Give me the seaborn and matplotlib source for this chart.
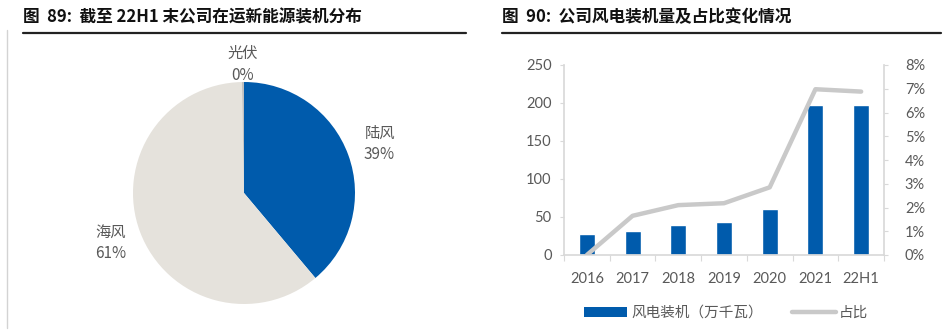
import numpy as np
import pandas as pd
import matplotlib
matplotlib.use("Agg")
import matplotlib.pyplot as plt
from matplotlib.lines import Line2D
from matplotlib.patches import Patch
import seaborn as sns

sns.set_theme(style="white")
CJK = ["Noto Sans CJK SC", "DejaVu Sans"]
NUM = ["Lato", "Noto Sans CJK SC", "DejaVu Sans"]
plt.rcParams["font.family"] = CJK
plt.rcParams["axes.unicode_minus"] = False

# ---- data ----
pie_labels = ["陆风", "海风", "光伏"]
pie_share = [39.0, 61.0, 0.3]          # %

years = ["2016", "2017", "2018", "2019", "2020", "2021", "22H1"]
wind_capacity = [27, 31, 40, 43, 61, 198, 198]      # 万千瓦
wind_ratio = [0.0, 1.65, 2.1, 2.18, 2.85, 6.98, 6.88]  # %

title_left = "图  89:  截至 22H1 末公司在运新能源装机分布"
title_right = "图  90:  公司风电装机量及占比变化情况"
legend_bar = "风电装机（万千瓦）"
legend_line = "占比"

BLUE = "#005BAC"
LIGHT = "#E5E2DC"
SLIVER = "#BFBFBF"
LINE_GRAY = "#C9C9C9"
TXT = "#595959"
AXIS = "#D9D9D9"

W, H = 946, 330
fig = plt.figure(figsize=(W / 100, H / 100), dpi=100)
fig.patch.set_facecolor("white")

def fx(px):
    return px / W

def fy(py):
    return 1 - py / H

# ---- titles and rules ----
fig.text(fx(23), fy(17), title_left, fontsize=12, fontweight="bold",
         color="#111111", va="center", ha="left", family=CJK)
fig.text(fx(502), fy(17), title_right, fontsize=12, fontweight="bold",
         color="#111111", va="center", ha="left", family=CJK)
fig.add_artist(Line2D([fx(23), fx(466)], [fy(33), fy(33)], color="#222222",
                      lw=1.6, transform=fig.transFigure))
fig.add_artist(Line2D([fx(502), fx(941)], [fy(33), fy(33)], color="#222222",
                      lw=1.6, transform=fig.transFigure))
fig.add_artist(Line2D([fx(6.5), fx(6.5)], [fy(30), fy(328)], color="#D3D3D3",
                      lw=1.0, transform=fig.transFigure))

# ---- pie ----
cx, cy, r = 244, 193, 111
ax1 = fig.add_axes([fx(cx - r), fy(cy + r), r * 2 / W, r * 2 / H])
wedges, _ = ax1.pie(pie_share, colors=[BLUE, LIGHT, SLIVER], startangle=90,
                    counterclock=False, radius=1.0,
                    wedgeprops=dict(linewidth=0))
ax1.set_xlim(-1, 1)
ax1.set_ylim(-1, 1)
ax1.set_aspect("equal")
ax1.axis("off")

label_dist = [1.30, 1.28, 1.16]
total = sum(pie_share)
for w, name, val, d in zip(wedges, pie_labels, pie_share, label_dist):
    ang = np.deg2rad((w.theta1 + w.theta2) / 2)
    x, y = d * np.cos(ang), d * np.sin(ang)
    ax1.text(x, y, f"{name}\n{val / total * 100:.0f}%", ha="center", va="center",
             fontsize=11, color=TXT, linespacing=1.35, clip_on=False,
             family=CJK)

# ---- bar + line ----
ax2 = fig.add_axes([fx(564), fy(255), fx(884) - fx(564), fy(65) - fy(255)])
df = pd.DataFrame({"year": years, "cap": wind_capacity, "ratio": wind_ratio})
sns.barplot(data=df, x="year", y="cap", color=BLUE, width=0.35,
            saturation=1, ax=ax2, zorder=2)
ax2.set_ylim(0, 250)
ax2.set_yticks(np.arange(0, 251, 50))
ax2.set_xlim(-0.5, len(years) - 0.5)
ax2.set_xlabel("")
ax2.set_ylabel("")

ax3 = ax2.twinx()
sns.lineplot(x=np.arange(len(years)), y=df["ratio"].values, color=LINE_GRAY,
             lw=3.2, ax=ax3, zorder=3, solid_capstyle="round")
ax3.set_ylim(0, 8)
ax3.set_yticks(np.arange(0, 9, 1))
ax3.set_yticklabels([f"{v}%" for v in range(9)])
ax3.set_xlim(-0.5, len(years) - 0.5)
ax3.set_ylabel("")

for a in (ax2, ax3):
    for s in a.spines.values():
        s.set_visible(False)
    a.grid(False)
ax2.spines["left"].set_visible(True)
ax2.spines["left"].set_color(AXIS)
ax2.spines["bottom"].set_visible(True)
ax2.spines["bottom"].set_color(AXIS)
ax3.spines["right"].set_visible(True)
ax3.spines["right"].set_color(AXIS)

ax2.set_xticks(np.arange(-0.5, len(years), 1), minor=True)
ax2.tick_params(axis="x", which="minor", length=4, color=AXIS, width=0.8,
                direction="out", bottom=True)
ax2.tick_params(axis="x", which="major", length=0, pad=12, labelsize=10.5,
                labelcolor=TXT)
ax2.tick_params(axis="y", length=3, width=0.8, color=AXIS, direction="out",
                left=True, pad=6, labelsize=10.5, labelcolor=TXT)
ax3.tick_params(axis="y", length=3, width=0.8, color=AXIS, direction="out",
                right=True, pad=12, labelsize=10.5, labelcolor=TXT)
for lab in ax2.get_xticklabels() + ax2.get_yticklabels() + ax3.get_yticklabels():
    lab.set_family(NUM)

# ---- legend ----
handles = [Patch(facecolor=BLUE, edgecolor="none", label=legend_bar),
           Line2D([0], [0], color=LINE_GRAY, lw=3.2, label=legend_line)]
fig.legend(handles=handles, loc="center", bbox_to_anchor=(fx(726), fy(313)),
           ncol=2, frameon=False, handlelength=3.0,
           handleheight=0.65, handletextpad=0.25, columnspacing=2.0,
           labelcolor=TXT, prop={"family": CJK, "size": 10.5})

fig.savefig("out.png", dpi=100, facecolor="white")
